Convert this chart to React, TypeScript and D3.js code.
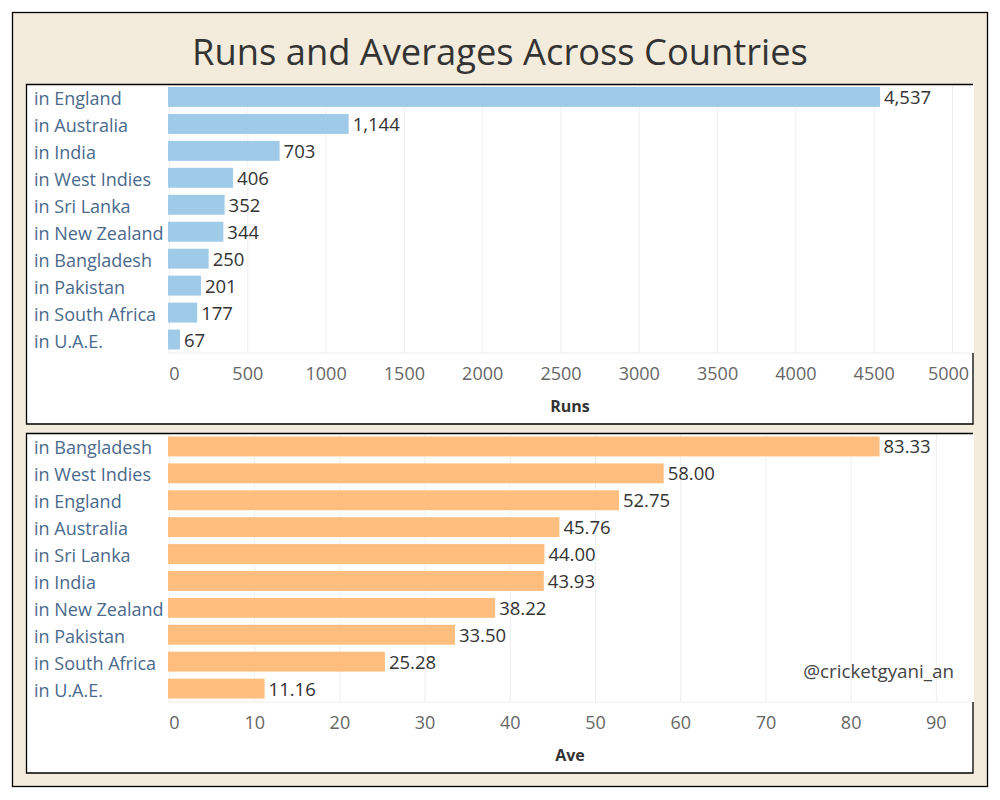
import * as d3 from 'd3';

const RUN_COUNTRIES = [
  'in England', 'in Australia', 'in India', 'in West Indies', 'in Sri Lanka',
  'in New Zealand', 'in Bangladesh', 'in Pakistan', 'in South Africa', 'in U.A.E.',
];
const RUNS = [4537, 1144, 703, 406, 352, 344, 250, 201, 177, 67];

const AVE_COUNTRIES = [
  'in Bangladesh', 'in West Indies', 'in England', 'in Australia', 'in Sri Lanka',
  'in India', 'in New Zealand', 'in Pakistan', 'in South Africa', 'in U.A.E.',
];
const AVES = [83.33, 58.0, 52.75, 45.76, 44.0, 43.93, 38.22, 33.5, 25.28, 11.16];

const RUN_TICKS = [0, 500, 1000, 1500, 2000, 2500, 3000, 3500, 4000, 4500, 5000];
const AVE_TICKS = [0, 10, 20, 30, 40, 50, 60, 70, 80, 90];

const WIDTH = 1000;
const HEIGHT = 800;
const FONT = '"Open Sans", "Noto Sans", sans-serif';
const LABEL_COLOR = '#4a6a8c';
const PLOT_X0 = 169.5;
const PLOT_X1 = 973;

interface PanelProps {
  top: number;
  bandTop: number;
  bandBottom: number;
  bottom: number;
  categories: string[];
  values: number[];
  ticks: number[];
  domainMax: number;
  color: string;
  title: string;
  format: (v: number) => string;
}

function Panel({ top, bandTop, bandBottom, bottom, categories, values, ticks, domainMax, color, title, format }: PanelProps) {
  const x = d3.scaleLinear().domain([0, domainMax]).range([PLOT_X0, PLOT_X1]);
  const y = d3
    .scaleBand<string>()
    .domain(categories)
    .range([bandTop, bandBottom])
    .paddingInner(0.26)
    .paddingOuter(0.13);

  return (
    <g>
      {/* panel background */}
      <rect x={26} y={top} width={948} height={bottom - top} fill="#fff" />

      {/* gridlines */}
      {ticks.map((t) => (
        <line key={t} x1={x(t)} x2={x(t)} y1={top} y2={bandBottom} stroke="#eeeeee" strokeWidth={1} />
      ))}
      <line x1={168} x2={PLOT_X1} y1={bandBottom} y2={bandBottom} stroke="#eeeeee" />

      {/* bars */}
      {values.map((v, i) => {
        const cy = (y(categories[i]) ?? 0) + y.bandwidth() / 2;
        return (
          <g key={categories[i]}>
            <rect
              x={x(0) - 1.5}
              y={y(categories[i])}
              width={x(v) - x(0) + 1.5}
              height={y.bandwidth()}
              fill={color}
            />
            <text x={x(v) + 4} y={cy + 7} fontSize={18.5} fill="#333" fontFamily={FONT}>
              {format(v)}
            </text>
            <text x={34} y={cy + 8} fontSize={18} fill={LABEL_COLOR} fontFamily={FONT}>
              {categories[i]}
            </text>
          </g>
        );
      })}

      {/* tick labels */}
      {ticks.map((t, i) => (
        <text
          key={t}
          x={i === 0 ? x(t) + 5 : i === ticks.length - 1 && x(t) > 940 ? x(t) - 4 : x(t)}
          y={bandBottom + 27}
          textAnchor="middle"
          fontSize={18}
          fill="#666"
          fontFamily={FONT}
        >
          {t}
        </text>
      ))}

      {/* axis title */}
      <text x={570} y={bandBottom + 59} textAnchor="middle" fontSize={16} fontWeight={700} fill="#333" fontFamily={FONT}>
        {title}
      </text>

      {/* panel border (open on the right beside the bars, as in Tableau) */}
      <path
        d={`M${PLOT_X1},${top + 0.5} H26.5 V${bottom} H${PLOT_X1} V${bandBottom}`}
        fill="none"
        stroke="#000"
        strokeWidth={1.3}
      />
    </g>
  );
}

export default function App() {
  return (
    <div style={{ position: 'absolute', left: 0, top: 0 }}>
      <svg width={WIDTH} height={HEIGHT} viewBox={`0 0 ${WIDTH} ${HEIGHT}`} style={{ display: 'block' }}>
        <rect x={0} y={0} width={WIDTH} height={HEIGHT} fill="#fff" />
        <rect x={12.5} y={12.5} width={975} height={774} fill="#f3ecdc" stroke="#000" strokeWidth={1.3} />

        <text x={500} y={65} textAnchor="middle" fontSize={36.3} fill="#333" fontFamily={FONT}>
          Runs and Averages Across Countries
        </text>

        <Panel
          top={84}
          bandTop={83.5}
          bandBottom={353}
          bottom={424}
          categories={RUN_COUNTRIES}
          values={RUNS}
          ticks={RUN_TICKS}
          domainMax={5131}
          color="#a0cbe8"
          title="Runs"
          format={d3.format(',')}
        />

        <Panel
          top={433}
          bandTop={433}
          bandBottom={702}
          bottom={773}
          categories={AVE_COUNTRIES}
          values={AVES}
          ticks={AVE_TICKS}
          domainMax={94.3}
          color="#ffbe7d"
          title="Ave"
          format={d3.format('.2f')}
        />

        <text x={954} y={678} textAnchor="end" fontSize={18.8} fill="#444" fontFamily={FONT}>
          @cricketgyani_an
        </text>
      </svg>
    </div>
  );
}
